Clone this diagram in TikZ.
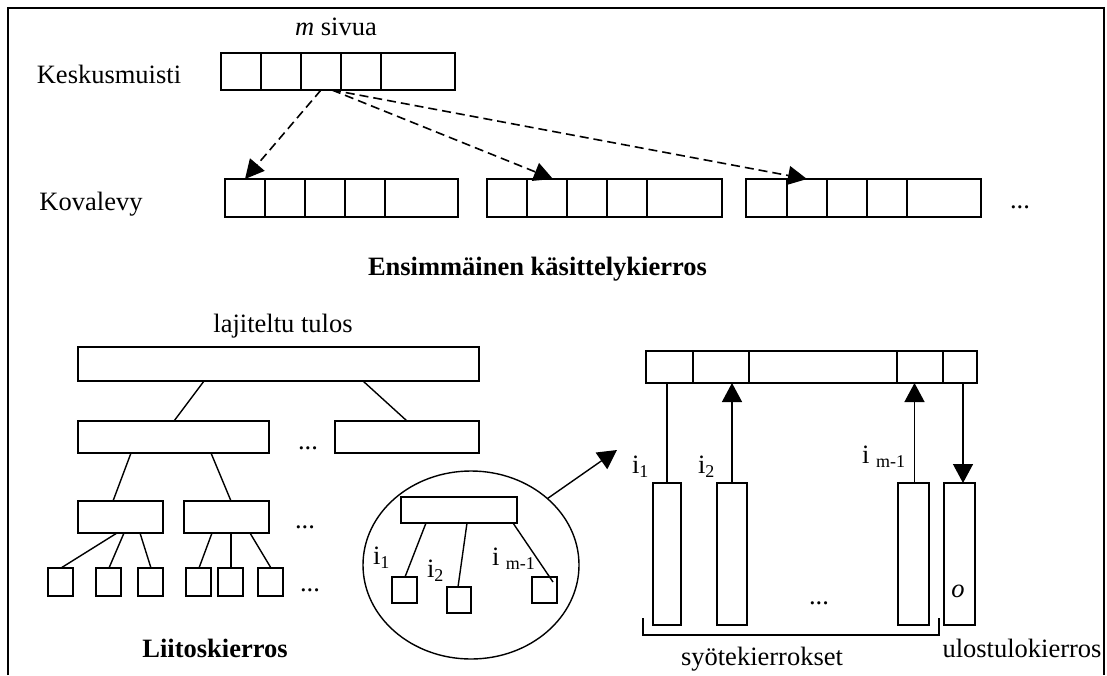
\documentclass[tikz,border=0pt]{standalone}
\usepackage{fontspec}
\setmainfont{Liberation Serif}
\usetikzlibrary{arrows.meta,shapes.geometric,calc}
\newcommand\lbsub[1]{\raisebox{-4pt}{\fontsize{18}{18}\selectfont #1}}
\newcommand\cellnode[5]{\node[cell,minimum width=#4pt,minimum height=#5pt] (#1) at (#2,#3) {};}
\begin{document}
\begin{tikzpicture}[x=1pt,y=-1pt,
  every node/.style={font=\fontsize{26.5}{30}\selectfont, inner sep=0pt, outer sep=0pt},
  boldlbl/.style={font=\fontsize{26.5}{30}\selectfont\bfseries},
  cell/.style={draw, line width=1.8pt, fill=white, anchor=north west},
  conn/.style={line width=1.4pt},
  arr/.style={line width=1.4pt, -{Triangle[length=19pt,width=20pt]}},
  darr/.style={line width=1.6pt, dash pattern=on 9pt off 5pt, -{Triangle[length=19pt,width=19pt]}},
  lbl/.style={anchor=base},
  lblw/.style={anchor=base west}]
\useasboundingbox (0,0) rectangle (1107,675);
% frame
\draw[line width=2pt] (8,675) -- (8,8) -- (1104,8) -- (1104,675);

% ---------- first pass ----------
\node[lbl] (msivua) at (336,35) {\textit{m} sivua};
\node[lbl] (kesk) at (109,83) {Keskusmuisti};
\node[lbl] (koval) at (91,210) {Kovalevy};

\cellnode{k1}{221}{53}{40}{37}
\cellnode{k2}{261}{53}{40}{37}
\cellnode{k3}{301}{53}{40}{37}
\cellnode{k4}{341}{53}{40}{37}
\cellnode{k5}{381}{53}{74}{37}

\cellnode{a1}{225}{179}{40}{38}
\cellnode{a2}{265}{179}{40}{38}
\cellnode{a3}{305}{179}{40}{38}
\cellnode{a4}{345}{179}{40}{38}
\cellnode{a5}{385}{179}{73}{38}

\cellnode{b1}{487}{179}{40}{38}
\cellnode{b2}{527}{179}{40}{38}
\cellnode{b3}{567}{179}{40}{38}
\cellnode{b4}{607}{179}{40}{38}
\cellnode{b5}{647}{179}{75}{38}

\cellnode{c1}{746}{179}{41}{38}
\cellnode{c2}{787}{179}{40}{38}
\cellnode{c3}{827}{179}{40}{38}
\cellnode{c4}{867}{179}{40}{38}
\cellnode{c5}{907}{179}{74}{38}

\node[lbl] (dots1) at (1020,208) {...};

\draw[darr] (k3.south) -- (a1.north);
\draw[darr] ([xshift=11pt]k3.south) -- ([xshift=6pt]b2.north);
\draw[darr] ([xshift=11pt]k3.south) -- (c2.north);

\node[lblw,boldlbl] (title) at (368,275) {Ensimmäinen käsittelykierros};

% ---------- merge tree ----------
\node[lbl] (lt) at (283,332) {lajiteltu tulos};
\cellnode{T}{78}{347}{401}{34}
\cellnode{M1}{78}{421}{191}{32}
\cellnode{M2}{335}{421}{144}{32}
\node[lbl] (d2) at (308,449) {...};
\cellnode{L1}{78}{501}{85}{32}
\cellnode{L2}{184}{501}{85}{32}
\node[lbl] (d3) at (305,528) {...};
\cellnode{p1}{48}{568}{25}{28}
\cellnode{p2}{96}{568}{25}{28}
\cellnode{p3}{138}{568}{25}{28}
\cellnode{p4}{186}{568}{25}{28}
\cellnode{p5}{218}{568}{25}{28}
\cellnode{p6}{258}{568}{25}{28}
\node[lbl] (d4) at (310,591) {...};

\draw[conn] ([xshift=126pt]T.south west) -- ([xshift=96pt]M1.north west);
\draw[conn] ([xshift=285pt]T.south west) -- ([xshift=72pt]M2.north west);
\draw[conn] ([xshift=53pt]M1.south west) -- ([xshift=35pt]L1.north west);
\draw[conn] ([xshift=133pt]M1.south west) -- ([xshift=47pt]L2.north west);
\draw[conn] ([xshift=39pt]L1.south west) -- ([xshift=13pt]p1.north west);
\draw[conn] ([xshift=46pt]L1.south west) -- ([xshift=13pt]p2.north west);
\draw[conn] ([xshift=62pt]L1.south west) -- ([xshift=13pt]p3.north west);
\draw[conn] ([xshift=28pt]L2.south west) -- ([xshift=13pt]p4.north west);
\draw[conn] ([xshift=47pt]L2.south west) -- ([xshift=13pt]p5.north west);
\draw[conn] ([xshift=66pt]L2.south west) -- ([xshift=13pt]p6.north west);

\node[lbl,boldlbl] (liit) at (215,657) {Liitoskierros};

% ---------- ellipse detail ----------
\node[draw, ellipse, line width=1.4pt, minimum width=216pt, minimum height=188pt] (E) at (471,565) {};
\cellnode{R}{401}{497}{116}{26}
\cellnode{e1}{392}{577}{25}{26}
\cellnode{e2}{447}{587}{24}{26}
\cellnode{e3}{532}{577}{25}{26}
\draw[conn] ([xshift=25pt]R.south west) -- ([xshift=13pt]e1.north west);
\draw[conn] ([xshift=66pt]R.south west) -- ([xshift=11pt]e2.north west);
\draw[conn] ([xshift=112pt]R.south west) -- ([xshift=21pt,yshift=-5pt]e3.north west);
\node[lblw] (ci1) at (373,564) {i\lbsub{1}};
\node[lblw] (ci2) at (427,577) {i\lbsub{2}};
\node[lblw] (cim) at (492,565) {i \lbsub{m-1}};
\coordinate (eo) at (617,450);
\draw[arr] (E.41) -- (eo);

% ---------- right part ----------
\cellnode{r1}{646}{351}{47}{32}
\cellnode{r2}{693}{351}{56}{32}
\cellnode{r3}{749}{351}{148}{32}
\cellnode{r4}{897}{351}{46}{32}
\cellnode{r5}{943}{351}{34}{32}
\cellnode{t1}{653}{483}{28}{142}
\cellnode{t2}{717}{483}{30}{142}
\cellnode{t3}{898}{483}{31}{142}
\cellnode{t4}{944}{483}{31}{142}

\draw[conn] (t1.north) -- (t1.north |- r1.south);
\draw[arr] (t2.north) -- (t2.north |- r2.south);
\draw[arr] ([xshift=1pt]t3.north) -- ([xshift=1pt]t3.north |- r4.south);
\draw[arr] ([xshift=3pt]r5.south) -- ([xshift=3pt]r5.south |- t4.north);

\node[lblw] (ri1) at (632,473) {i\lbsub{1}};
\node[lblw] (ri2) at (698,473) {i\lbsub{2}};
\node[lblw] (rim) at (862,463) {i \lbsub{m-1}};
\node[lbl] (d5) at (819,604) {...};
\node[lbl] (o) at (958,597) {\textit{o}};

\draw[line width=1.5pt] (643,618) -- (643,635) -- (939,635) -- (939,618);
\node[lbl] (syo) at (762,665) {syötekierrokset};
\node[lbl] (ulos) at (1022,657) {ulostulokierros};
\end{tikzpicture}
\end{document}
